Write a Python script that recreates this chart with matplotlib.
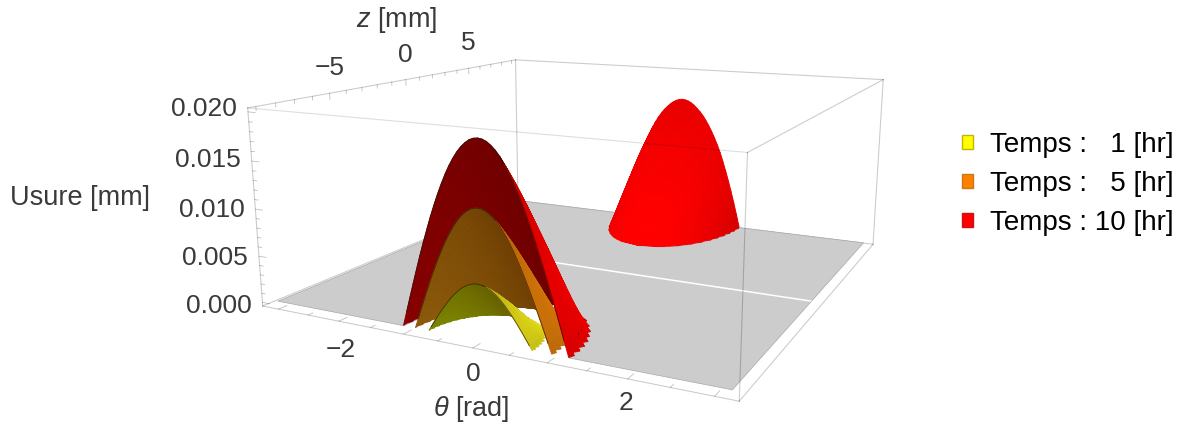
import numpy as np
import matplotlib
matplotlib.use('Agg')
import matplotlib.pyplot as plt
from matplotlib.patches import Patch
from mpl_toolkits.mplot3d import proj3d
from mpl_toolkits.mplot3d.art3d import Poly3DCollection

plt.rcParams['font.family'] = ['Liberation Sans', 'DejaVu Sans']
plt.rcParams['mathtext.fontset'] = 'custom'
plt.rcParams['mathtext.rm'] = 'Liberation Sans'
plt.rcParams['mathtext.it'] = 'Liberation Sans:italic'

legend_labels = ['Temps :   1 [hr]', 'Temps :   5 [hr]', 'Temps : 10 [hr]']
legend_colors = ['#ffff00', '#ff8000', '#ff0000']
legend_edges = ['#c8b400', '#c87814', '#c81414']

theta_ticks = [-2, 0, 2]
z_ticks = [-5, 0, 5]
u_ticks = [0.000, 0.005, 0.010, 0.015, 0.020]

# cross section of a wear dome, from the rim (1) to the crown (0)
arch_half_pos = [1.0, 0.95, 0.9, 0.85, 0.8, 0.75, 0.7, 0.65, 0.6, 0.55, 0.5,
                 0.45, 0.4, 0.35, 0.3, 0.25, 0.2, 0.15, 0.1, 0.05, 0.0]
arch_half_val = [0.0, 0.078, 0.156, 0.233, 0.309, 0.383, 0.454, 0.522, 0.588, 0.649, 0.707,
                 0.76, 0.809, 0.853, 0.891, 0.924, 0.951, 0.972, 0.988, 0.997, 1.0]
back_half_val = [0.0, 0.1, 0.195, 0.285, 0.37, 0.45, 0.525, 0.595, 0.655, 0.71, 0.76,
                 0.805, 0.845, 0.88, 0.91, 0.935, 0.958, 0.976, 0.989, 0.997, 1.0]

# how the dome closes up, going away from the open edge
station_pos = [0.0, 0.05, 0.1, 0.15, 0.2, 0.25, 0.3, 0.35, 0.4, 0.45, 0.5,
               0.55, 0.6, 0.65, 0.7, 0.75, 0.8, 0.85, 0.9, 0.95, 1.0]
station_width = [1.0, 0.999, 0.995, 0.989, 0.98, 0.968, 0.954, 0.937, 0.917, 0.893, 0.866,
                 0.835, 0.8, 0.76, 0.714, 0.661, 0.6, 0.527, 0.436, 0.312, 0.0]
station_peak = [1.0, 0.96, 0.92, 0.875, 0.83, 0.78, 0.73, 0.68, 0.625, 0.57, 0.51,
                0.45, 0.39, 0.33, 0.27, 0.21, 0.155, 0.105, 0.06, 0.025, 0.0]
# saw teeth of the rim
rim_teeth = [0.0, 0.03, -0.02, 0.035, -0.025, 0.04, -0.02, 0.035, -0.03, 0.04, -0.02,
             0.035, -0.025, 0.04, -0.03, 0.035, -0.02, 0.03, -0.02, 0.025, 0.0]

# centre [rad], half width [rad], height [mm], length [mm]
yellow_dome = (0.0, 0.72, 0.0055, 2.6)
orange_dome = (0.03, 0.95, 0.0128, 3.6)
red_dome = (0.05, 1.15, 0.0193, 4.4)
back_dome = (0.035, 1.055, 0.0165, 5.0)

FLOOR_T = 3.14
FLOOR_Z = 9.0
X0, X1 = -3.27, 3.27
Y0, Y1 = -9.4, 9.4
Z0, Z1 = -0.0004, 0.0204

# px per unit, from matching the box corners
S = 3544.55
OX, OY = 596.93, 184.06
W, H = 1183.0, 423.0
side = 0.185 * S
fig = plt.figure(figsize=(W / 100, H / 100), dpi=100)
ax = fig.add_axes([(OX - 0.095 * S) / W, (H - OY - 0.095 * S) / H, side / W, side / H], projection='3d')
ax.computed_zorder = False
ax.view_init(elev=12.7831, azim=-63.4702)
ax.set_proj_type('persp', focal_length=0.29)
ax.set_box_aspect((2.4982, 2.4879, 1))
ax.set_xlim(X0, X1, view_margin=0)
ax.set_ylim(Y0, Y1, view_margin=0)
ax.set_zlim(Z0, Z1, view_margin=0)
ax.set_axis_off()
ax.patch.set_alpha(0)
M = ax.get_proj()

arch_pos = np.r_[-np.array(arch_half_pos), np.array(arch_half_pos[-2::-1])]
stations = np.array(station_pos)


def shell(dome, edge, way, half_val, teeth=1.0):
    c, w, h, length = dome
    half = w * np.outer(station_width, arch_pos)
    half[:, 0] *= 1 + 0.4 * teeth * np.array(rim_teeth)
    half[:, -1] *= 1 + teeth * np.array(rim_teeth[::-1])
    th = c + half
    yy = np.repeat((edge + way * length * stations)[:, None], len(arch_pos), axis=1)
    uu = h * np.outer(station_peak, np.r_[half_val, half_val[-2::-1]])
    return th, yy, uu


def quads(th, yy, uu):
    a = np.stack([th, yy, uu], axis=-1)
    return np.stack([a[:-1, :-1], a[:-1, 1:], a[1:, 1:], a[1:, :-1]], axis=2)


def facing(q, way):
    xs, ys, _ = proj3d.proj_transform(q[..., 0].ravel(), q[..., 1].ravel(), q[..., 2].ravel(), M)
    xs = np.asarray(xs).reshape(q.shape[:3])
    ys = np.asarray(ys).reshape(q.shape[:3])
    area = np.sum(xs * np.roll(ys, -1, axis=2) - np.roll(xs, -1, axis=2) * ys, axis=2)
    return area * way > 0


def paint(q, mask, colors, z):
    coll = Poly3DCollection(q[mask], facecolors=colors[mask], edgecolors=colors[mask],
                            linewidths=0.7, zorder=z)
    ax.add_collection3d(coll)


def dome_colors(q, dome, outer, in_left, in_right, top_dark=0.27):
    c, w, h, _ = dome
    x = np.clip((q[..., 0].mean(axis=2) - c) / w, -1, 1)
    up = q[..., 2].mean(axis=2) / h
    shade = 1 - top_dark * up ** 2 - 0.16 * np.abs(x) ** 3
    lit = np.clip(np.array(outer)[None, None, :] * shade[..., None], 0, 1)
    t = ((x + 1) / 2)[..., None]
    dark = np.array(in_left)[None, None, :] * (1 - t) + np.array(in_right)[None, None, :] * t
    return lit, dark


def rgb(r, g, b):
    return (r / 255, g / 255, b / 255)


# floor, with the footprints of the domes left out
def rim(dome, edge, way, sgn):
    c, w, _, length = dome
    return np.c_[c + sgn * w * np.array(station_width), edge + way * length * stations]


fr_l = rim(red_dome, -FLOOR_Z, 1, -1)
fr_r = rim(red_dome, -FLOOR_Z, 1, 1)
bk_r = rim(back_dome, FLOOR_Z, -1, 1)
bk_l = rim(back_dome, FLOOR_Z, -1, -1)
outline = np.vstack([[[-FLOOR_T, -FLOOR_Z]], fr_l, fr_r[::-1], [[FLOOR_T, -FLOOR_Z]], [[FLOOR_T, FLOOR_Z]],
                     bk_r, bk_l[::-1], [[-FLOOR_T, FLOOR_Z]]])
floor = Poly3DCollection([np.c_[outline, np.zeros(len(outline))]], facecolors='#cccccc',
                         edgecolors='#a8a8a8', linewidths=0.5, zorder=2)
ax.add_collection3d(floor)
ax.plot([-1.0, FLOOR_T], [0, 0], [0, 0], color='white', lw=1.1, zorder=3)

# box edges
ink = dict(color='black', alpha=0.2, lw=0.8, clip_on=False)
for a, b in [((X0, Y1, Z0), (X1, Y1, Z0)), ((X0, Y0, Z0), (X0, Y1, Z0)), ((X0, Y1, Z0), (X0, Y1, Z1)),
             ((X0, Y1, Z1), (X1, Y1, Z1)), ((X0, Y0, Z1), (X0, Y1, Z1)), ((X1, Y1, Z0), (X1, Y1, Z1))]:
    ax.plot(*zip(a, b), zorder=1, **ink)
for a, b in [((X0, Y0, Z0), (X1, Y0, Z0)), ((X1, Y0, Z0), (X1, Y1, Z0)), ((X0, Y0, Z0), (X0, Y0, Z1)),
             ((X1, Y0, Z0), (X1, Y0, Z1)), ((X1, Y0, Z1), (X1, Y1, Z1))]:
    ax.plot(*zip(a, b), zorder=20, **ink)
ax.plot(*zip((X0, Y0, Z1), (X1, Y0, Z1)), zorder=20, color='black', alpha=0.13, lw=0.8, clip_on=False)

# back dome
th, yy, uu = shell(back_dome, FLOOR_Z, -1, back_half_val, teeth=0.5)
q = quads(th, yy, uu)
front = facing(q, -1)
lit, dark = dome_colors(q, back_dome, rgb(255, 0, 0), rgb(140, 0, 0), rgb(95, 0, 0), top_dark=0.1)
paint(q, ~front, lit, 4)
paint(q, front, lit, 5)

# nested front domes: inside faces outer to inner, then outside faces inner to outer
front_set = [(red_dome, rgb(255, 0, 0), rgb(135, 0, 0), rgb(95, 0, 0)),
             (orange_dome, rgb(225, 125, 10), rgb(140, 90, 10), rgb(90, 45, 0)),
             (yellow_dome, rgb(235, 225, 25), rgb(125, 135, 0), rgb(85, 60, 0))]
for k, (dome, outer, left, right) in enumerate(front_set):
    th, yy, uu = shell(dome, -FLOOR_Z, 1, arch_half_val)
    q = quads(th, yy, uu)
    front = facing(q, 1)
    lit, dark = dome_colors(q, dome, outer, left, right)
    paint(q, ~front, dark, 7 + k)
    paint(q, front, lit, 15 - k)
    ax.plot(th[0][1:-1], yy[0][1:-1], uu[0][1:-1], color='#2a1400', lw=0.6, alpha=0.75, zorder=16)

# ticks
tick_ink = dict(color='black', alpha=0.25, lw=0.6, zorder=20, clip_on=False)
for t in np.arange(-3, 3.01, 0.5):
    d = 0.45 if t == round(t) else 0.25
    ax.plot([t, t], [Y0, Y0 + d], [Z0, Z0], **tick_ink)
for t in np.arange(-9, 9.01, 1):
    d = 0.0007 if t % 5 == 0 else 0.0004
    ax.plot([X0, X0], [t, t], [Z1, Z1 - d], **tick_ink)
for t in np.arange(0, 0.0201, 0.001):
    d = 0.12 if round(t * 1000) % 5 == 0 else 0.06
    ax.plot([X0, X0 + d], [Y0, Y0], [t, t], **tick_ink)


def label(text, pos, dx, dy, **kw):
    xs, ys, _ = proj3d.proj_transform(pos[0], pos[1], pos[2], M)
    ax.annotate(text, (xs, ys), xytext=(dx, dy), textcoords='offset pixels', fontsize=19,
                color='#3a3a3a', va='center', annotation_clip=False, **kw)


for t in theta_ticks:
    label(str(t).replace('-', '\u2212'), (t, Y0, Z0), -0.75 * t, -26 + 1.2 * t, ha='center')
for t in z_ticks:
    label(str(t).replace('-', '\u2212'), (X0, t, Z1), 0, 25, ha='center')
for t in u_ticks:
    label(f'{t:.3f}', (X0, Y0, t), -11, -4 + 350 * t, ha='right')

fig.text(80 / W, 1 - 198 / H, 'Usure [mm]', fontsize=19.5, color='#3a3a3a', ha='center', va='center')
fig.text(397 / W, 1 - 20 / H, r'$z$ [mm]', fontsize=19.5, color='#3a3a3a', ha='center', va='center')
fig.text(471 / W, 1 - 409 / H, r'$\theta$ [rad]', fontsize=19.5, color='#3a3a3a', ha='center', va='center')

handles = [Patch(facecolor=c, edgecolor=e, linewidth=1) for c, e in zip(legend_colors, legend_edges)]
fig.legend(handles, legend_labels, loc='upper left', bbox_to_anchor=(962 / W, 1 - 132 / H), frameon=False,
           fontsize=20, handlelength=0.41, handleheight=0.41, handletextpad=0.6, labelspacing=0.46,
           borderpad=0, borderaxespad=0, labelcolor='black')

fig.savefig('out.png', dpi=100)
